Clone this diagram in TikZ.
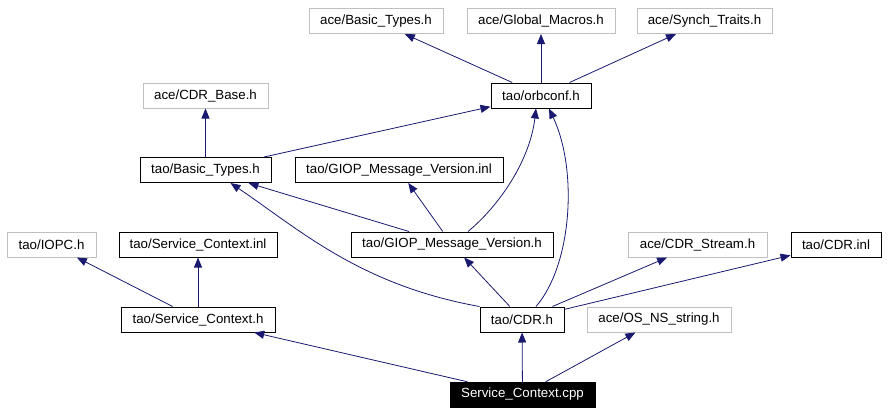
\documentclass[tikz,border=0pt]{standalone}
\usepackage{fontspec}
\setmainfont{Liberation Sans}
\usepackage{tikz}
\usetikzlibrary{arrows.meta}

\definecolor{edgeblue}{RGB}{25,25,112}
\definecolor{extgray}{RGB}{191,191,191}

\begin{document}
\begin{tikzpicture}[
    x=1pt, y=-1pt,
    font=\fontsize{13.3}{15}\selectfont,
    internal/.style={rectangle, minimum height=25pt, inner sep=0pt, text centered, draw=black, line width=1pt, fill=white},
    external/.style={rectangle, minimum height=25pt, inner sep=0pt, text centered, draw=extgray, line width=1pt, fill=white},
    root/.style={rectangle, minimum height=25pt, inner sep=0pt, text centered, draw=black, fill=black, text=white},
    arrow/.style={draw=edgeblue, line width=0.8pt, -{Triangle[length=10pt,width=8pt]}, edgeblue}
]
\useasboundingbox (0,0) rectangle (888,413);

% ノード
\node (btace) [external, minimum width=134pt] at (376,21) {ace/Basic\_Types.h};
\node (globalmacros) [external, minimum width=148pt] at (541,21) {ace/Global\_Macros.h};
\node (synchtraits) [external, minimum width=135pt] at (704.5,21) {ace/Synch\_Traits.h};
\node (cdrbase) [external, minimum width=125pt] at (205.5,95.5) {ace/CDR\_Base.h};
\node (orbconf) [internal, minimum width=100pt] at (541,95.5) {tao/orbconf.h};
\node (bttao) [internal, minimum width=131pt] at (205.5,170) {tao/Basic\_Types.h};
\node (gmvinl) [internal, minimum width=208pt] at (399,170) {tao/GIOP\_Message\_Version.inl};
\node (iopc) [external, minimum width=89pt] at (51.5,244.5) {tao/IOPC.h};
\node (scinl) [internal, minimum width=158pt] at (198,244.5) {tao/Service\_Context.inl};
\node (gmvh) [internal, minimum width=202pt] at (452,244.5) {tao/GIOP\_Message\_Version.h};
\node (cdrstream) [external, minimum width=139pt] at (697.5,244.5) {ace/CDR\_Stream.h};
\node (cdrinl) [internal, minimum width=90pt] at (836,244.5) {tao/CDR.inl};
\node (sch) [internal, minimum width=154pt] at (198,319.5) {tao/Service\_Context.h};
\node (cdrh) [internal, minimum width=84pt] at (522,319.5) {tao/CDR.h};
\node (osns) [external, minimum width=144pt] at (659,319.5) {ace/OS\_NS\_string.h};
\node (cpp) [root, minimum width=145pt] at (522.5,394.5) {Service\_Context.cpp};

% 矢印
\draw [arrow] (cpp) -- (sch);
\draw [arrow] (cpp) -- (cdrh);
\draw [arrow] (cpp) -- (osns);
\draw [arrow] (sch) -- (iopc);
\draw [arrow] (sch) -- (scinl);
\draw [arrow] (cdrh) -- (gmvh);
\draw [arrow] (cdrh) -- (cdrstream);
\draw [arrow] (cdrh) -- (cdrinl);
\draw [arrow] (cdrh.north west) .. controls (360,285) and (300,230) .. ([xshift=25pt]bttao.south);
\draw [arrow] ([xshift=14pt]cdrh.north) .. controls (572,265) and (578,170) .. ([xshift=8pt]orbconf.south);
\draw [arrow] (gmvh) -- (bttao);
\draw [arrow] (gmvh) -- (gmvinl);
\draw [arrow] ([xshift=16pt]gmvh.north) .. controls (500,205) and (530,160) .. ([xshift=-5pt]orbconf.south);
\draw [arrow] (bttao) -- (orbconf);
\draw [arrow] (bttao) -- (cdrbase);
\draw [arrow] (orbconf) -- (btace);
\draw [arrow] (orbconf) -- (globalmacros);
\draw [arrow] (orbconf) -- (synchtraits);

\end{tikzpicture}
\end{document}
